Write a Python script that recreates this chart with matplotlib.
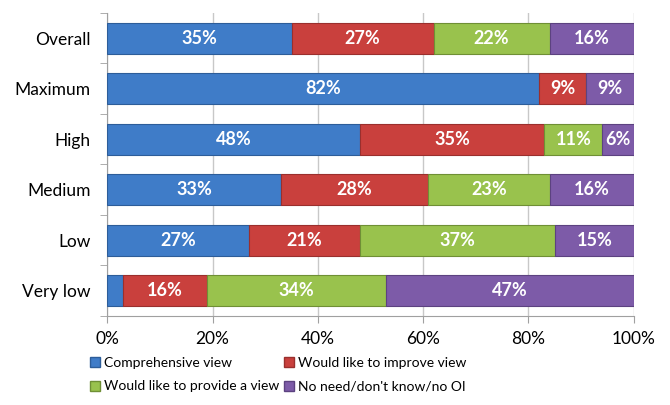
import numpy as np
import matplotlib.pyplot as plt
from matplotlib.patches import Patch

categories = ["Overall", "Maximum", "High", "Medium", "Low", "Very low"]
comprehensive = [35, 82, 48, 33, 27, 3]
improve = [27, 9, 35, 28, 21, 16]
provide = [22, 0, 11, 23, 37, 34]
no_need = [16, 9, 6, 16, 15, 47]

series_names = ["Comprehensive view", "Would like to improve view",
                "Would like to provide a view", "No need/don't know/no OI"]
colors = ["#3f7cc8", "#c9403d", "#99c24d", "#7d5ba8"]
edges = ["#2d5d99", "#9a2f2d", "#6f8f35", "#5c4280"]

plt.rcParams['font.family'] = ['Lato', 'DejaVu Sans']

fig = plt.figure(figsize=(6.7, 4.05), dpi=100)
ax = fig.add_axes([0.160, 0.220, 0.786, 0.748])

y = np.arange(len(categories))
left = np.zeros(len(categories))
for vals, c, ec in zip([comprehensive, improve, provide, no_need], colors, edges):
    vals = np.array(vals, dtype=float)
    ax.barh(y, vals, left=left, height=0.61, color=c, edgecolor=ec, linewidth=0.8, zorder=3)
    for yi, l, v in zip(y, left, vals):
        if v >= 5:
            ax.text(l + v / 2, yi, f"{v:.0f}%", ha="center", va="center",
                    color="white", fontsize=13, fontweight="bold", zorder=4)
    left += vals

ax.set_xlim(0, 100)
ax.set_ylim(len(categories) - 0.5, -0.5)
ax.set_xticks(np.arange(0, 101, 20))
ax.set_xticklabels([f"{v}%" for v in range(0, 101, 20)], fontsize=12.5)
ax.set_yticks(y)
ax.set_yticklabels(categories, fontsize=12.5)
ax.set_yticks(np.arange(-0.5, len(categories), 1), minor=True)
ax.tick_params(axis="y", which="major", length=0, pad=12)
ax.tick_params(axis="y", which="minor", length=5, color="#a0a0a0")
ax.tick_params(axis="x", length=5, color="#a0a0a0", pad=6)
ax.grid(axis="x", color="#c8c8c8", linewidth=1, zorder=0)
for s in ["top", "right"]:
    ax.spines[s].set_visible(False)
for s in ["left", "bottom"]:
    ax.spines[s].set_color("#a0a0a0")

handles = [Patch(facecolor=c, edgecolor=ec) for c, ec in zip(colors, edges)]
order = [0, 2, 1, 3]
fig.legend([handles[i] for i in order], [series_names[i] for i in order],
           ncol=2, loc="lower left", bbox_to_anchor=(0.115, 0.0),
           frameon=False, fontsize=10, handlelength=0.75, handleheight=0.75,
           handletextpad=0.3, columnspacing=0.3, labelspacing=0.85)

fig.savefig("out.png", dpi=100)
